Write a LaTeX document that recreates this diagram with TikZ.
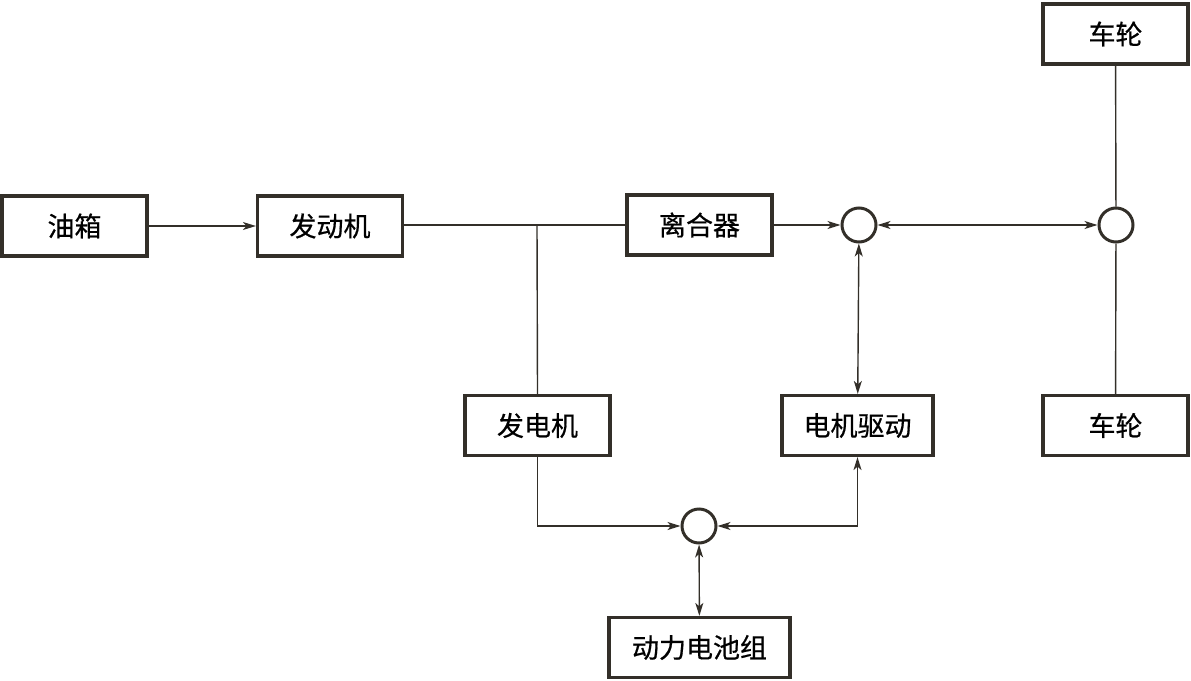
\documentclass[tikz,border=0pt]{standalone}
\usepackage{fontspec}
\newfontfamily\cjk[FakeBold=0.6]{Noto Sans CJK SC}
\usetikzlibrary{arrows.meta}
\begin{document}
\begin{tikzpicture}[x=1pt,y=-1pt,
  blk/.style={draw=black!85!olive, line width=3.2pt, minimum width=145pt, minimum height=60pt, inner sep=0pt, font=\cjk\fontsize{27}{32}\selectfont},
  jn/.style={circle, draw=black!85!olive, line width=3pt, minimum size=34pt, inner sep=0pt},
  ln/.style={line width=1.4pt, draw=black!85!olive},
  ar/.style={ln, -{Stealth[length=13pt,width=8pt,inset=3.5pt]}},
  dar/.style={ln, {Stealth[length=13pt,width=8pt,inset=3.5pt]}-{Stealth[length=13pt,width=8pt,inset=3.5pt]}}]
\useasboundingbox (0,0) rectangle (1191,680);
\node[blk] (tank) at (74.5,226) {油箱};
\node[blk] (eng) at (330,226) {发动机};
\node[blk] (clu) at (699.5,225) {离合器};
\node[jn] (c1) at (859,225) {};
\node[jn] (c2) at (1116,225) {};
\node[blk] (wt) at (1115.5,34) {车轮};
\node[blk] (wb) at (1115.5,425.5) {车轮};
\node[blk] (gen) at (537.5,425.5) {发电机};
\node[blk, minimum width=151pt] (mot) at (857.5,425.5) {电机驱动};
\node[jn] (c3) at (699,526) {};
\node[blk, minimum width=181pt] (bat) at (699.5,647.5) {动力电池组};
\coordinate (j1) at (537,225);
\draw[ar] (tank) -- (eng);
\draw[ln] (eng.east |- clu) -- (clu);
\draw[ln] (j1) -- (gen.north);
\draw[ar] (clu) -- (c1);
\draw[dar] (c1) -- (c2);
\draw[ln] (c2) -- (wt);
\draw[ln] (c2) -- (wb);
\draw[dar] (c1) -- (mot);
\draw[ar] (gen.south) |- (c3);
\draw[dar] (c3) -| (mot.south);
\draw[dar] (c3) -- (bat);
\end{tikzpicture}
\end{document}
